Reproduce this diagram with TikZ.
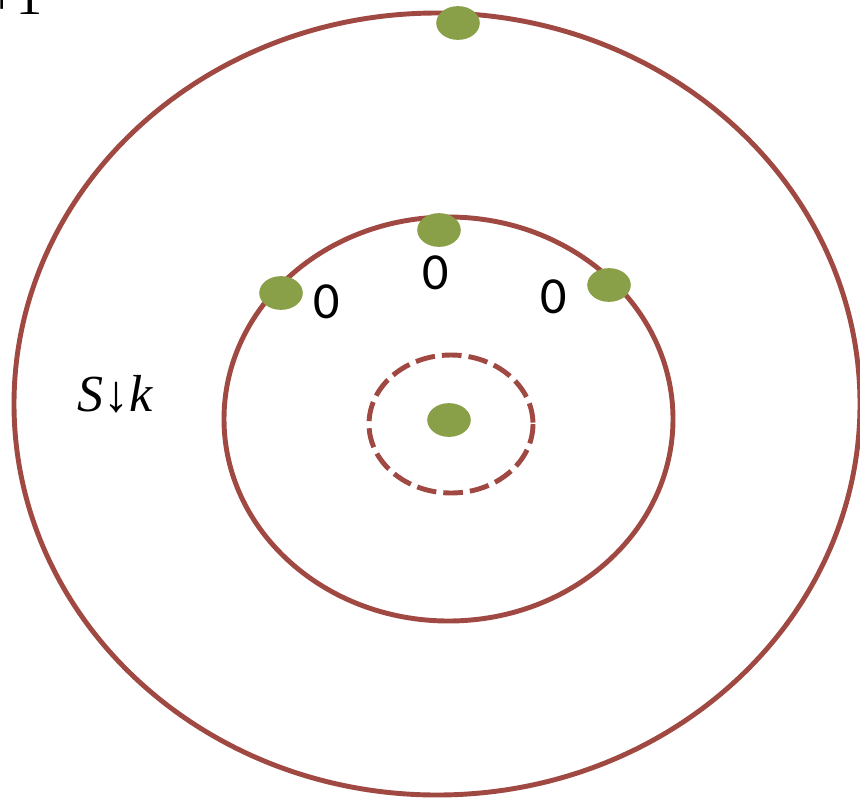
\documentclass[tikz,border=0pt]{standalone}
\usepackage{fontspec}
\setmainfont{Liberation Serif}
\newfontfamily\labelfont{Carlito}
\usetikzlibrary{calc}
\definecolor{RingInk}{RGB}{160,72,66}
\definecolor{TokenFill}{RGB}{138,160,72}
\tikzset{
    ring/diagram/.style={
        x=0.025cm, y=-0.025cm,
        line cap=round,
        line join=round,
        every node/.style={inner sep=0pt, outer sep=0pt}
    },
    ring/orbit/.style={draw=RingInk, line width=3.5pt},
    ring/hidden/.style={
        draw=RingInk, line width=3.5pt, line cap=butt,
        dash pattern=on 14pt off 5pt
    },
    ring/token/.style={
        ellipse, fill=TokenFill, draw=none,
        minimum width=31pt, minimum height=24pt
    },
    ring/zero/.style={font=\labelfont\fontsize{37}{42}\selectfont},
    ring/label/.style={font=\fontsize{37}{42}\selectfont}
}
\usetikzlibrary{shapes.geometric}
\begin{document}
\begin{tikzpicture}[ring/diagram]
    \useasboundingbox (0,0) rectangle (860,798);
    % rings
    \draw[ring/orbit] (437,404) ellipse (423 and 391);
    \draw[ring/orbit] (448.5,419) ellipse (224.5 and 202);
    \draw[ring/hidden] (451,424) ellipse (82 and 69);
    % tokens
    \node[ring/token] (OuterTop) at (458,23) {};
    \node[ring/token] (InnerTop) at (439,230) {};
    \node[ring/token] (InnerLeft) at (281,293) {};
    \node[ring/token] (InnerRight) at (609,285) {};
    \node[ring/token] (Centre) at (449,420) {};
    % labels
    \node[ring/zero] (ZeroTop) at (436,273) {0};
    \node[ring/zero] (ZeroLeft) at (327,302) {0};
    \node[ring/zero] (ZeroRight) at (554,297) {0};
    \node[ring/label] (Stage) at (115,394) {\textit{S}↓\textit{k}};
    \node[ring/label, anchor=base east] (Plus) at (43,14) {+1};
\end{tikzpicture}
\end{document}
